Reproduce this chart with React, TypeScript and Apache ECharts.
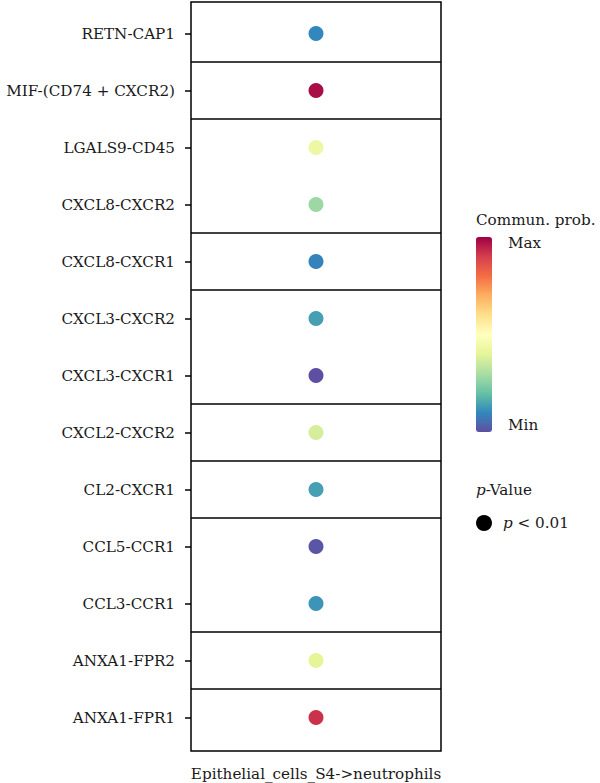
import React, { useEffect, useRef } from "react";
import * as echarts from "echarts";

// Ligand–receptor pairs, top to bottom
const pairs = [
  "RETN-CAP1",
  "MIF-(CD74 + CXCR2)",
  "LGALS9-CD45",
  "CXCL8-CXCR2",
  "CXCL8-CXCR1",
  "CXCL3-CXCR2",
  "CXCL3-CXCR1",
  "CXCL2-CXCR2",
  "CL2-CXCR1",
  "CCL5-CCR1",
  "CCL3-CCR1",
  "ANXA1-FPR2",
  "ANXA1-FPR1",
];

// Sender -> receiver column
const sourceTarget = ["Epithelial_cells_S4->neutrophils"];

// Relative communication probability (0 = Min, 1 = Max)
const commProb = [0.1, 0.98, 0.43, 0.28, 0.09, 0.14, 0.0, 0.37, 0.14, 0.01, 0.12, 0.4, 0.92];

// Pathway group boundaries (separators placed after these row indices)
const groupBreaksAfter = [0, 1, 3, 4, 6, 7, 8, 10, 11];

// Spectral palette, Min -> Max
const spectral = [
  "#5e4fa2", "#3288bd", "#66c2a5", "#abdda4", "#e6f598", "#ffffbf",
  "#fee08b", "#fdae61", "#f46d43", "#d53e4f", "#9e0142",
];

const FONT = "DejaVu Serif";
const TXT = "#1a1a1a";
const FS = 15.2;

export default function App() {
  const ref = useRef<HTMLDivElement>(null);

  useEffect(() => {
    if (!ref.current) return;
    const chart = echarts.init(ref.current, null, { renderer: "svg" });

    const points = commProb.map((v, i) => [sourceTarget[0], pairs[i], v]);

    chart.setOption({
      animation: false,
      backgroundColor: "#ffffff",
      textStyle: { fontFamily: FONT },
      grid: [
        // outer frame
        {
          left: 191, top: 2, width: 250, height: 749,
          show: true, borderColor: "#000", borderWidth: 1.5,
          backgroundColor: "transparent",
        },
        // inner plotting band
        { left: 191, top: 5, width: 250, height: 741 },
      ],
      xAxis: [
        {
          gridIndex: 0,
          type: "category",
          data: sourceTarget,
          axisLine: { show: false },
          axisTick: { show: false },
          axisLabel: { fontFamily: FONT, fontSize: FS, color: TXT, margin: 15 },
        },
        {
          gridIndex: 1,
          type: "category",
          data: sourceTarget,
          show: false,
        },
      ],
      yAxis: [
        { gridIndex: 0, type: "value", show: false },
        {
          gridIndex: 1,
          type: "category",
          data: pairs,
          inverse: true,
          axisLine: { show: false },
          axisTick: { show: true, alignWithLabel: true, length: 6, lineStyle: { color: "#000", width: 1.5 } },
          axisLabel: { fontFamily: FONT, fontSize: FS, color: TXT, margin: 16 },
          splitLine: { show: false },
        },
        {
          gridIndex: 1,
          type: "value",
          min: -0.5,
          max: 12.5,
          inverse: true,
          show: false,
          splitLine: { show: false },
        },
      ],
      visualMap: {
        type: "continuous",
        min: 0,
        max: 1,
        dimension: 2,
        seriesIndex: 0,
        calculable: false,
        text: null,
        padding: 0,
        left: 476,
        top: 237,
        itemWidth: 16,
        itemHeight: 195,
        inRange: { color: spectral, opacity: 1 },
      },
      legend: {
        data: ["p < 0.01"],
        left: 476,
        top: 515,
        padding: 0,
        icon: "circle",
        itemWidth: 16,
        itemHeight: 16,
        itemGap: 8,
        selectedMode: false,
        itemStyle: { color: "#000", opacity: 1 },
        formatter: () => "{i|p} < 0.01",
        textStyle: {
          fontFamily: FONT,
          fontSize: FS,
          color: TXT,
          padding: [0, 0, 0, 6],
          rich: {
            i: { fontFamily: FONT, fontSize: FS, fontStyle: "italic", color: TXT },
          },
        },
      },
      series: [
        {
          name: "p < 0.01",
          type: "scatter",
          xAxisIndex: 1,
          yAxisIndex: 1,
          symbolSize: 15,
          data: points,
          itemStyle: { color: "#000", opacity: 1 },
        },
        {
          // pathway group separators
          type: "scatter",
          xAxisIndex: 1,
          yAxisIndex: 2,
          data: [],
          silent: true,
          markLine: {
            silent: true,
            symbol: "none",
            label: { show: false },
            lineStyle: { color: "#000", width: 1.5, type: "solid" },
            data: groupBreaksAfter.map((i) => ({ yAxis: i + 0.5 })),
          },
        },
      ],
      graphic: [
        {
          type: "text",
          left: 476,
          top: 212,
          style: { text: "Commun. prob.", fontFamily: FONT, fontSize: FS, fill: TXT },
        },
        {
          type: "text",
          left: 508,
          top: 235,
          style: { text: "Max", fontFamily: FONT, fontSize: FS, fill: TXT },
        },
        {
          type: "text",
          left: 508,
          top: 417,
          style: { text: "Min", fontFamily: FONT, fontSize: FS, fill: TXT },
        },
        {
          type: "text",
          left: 476,
          top: 482,
          style: {
            text: "{i|p}-Value",
            fontFamily: FONT,
            fontSize: FS,
            fill: TXT,
            rich: { i: { fontFamily: FONT, fontSize: FS, fontStyle: "italic", fill: TXT } },
          },
        },
      ],
    });

    return () => chart.dispose();
  }, []);

  return (
    <div
      ref={ref}
      style={{ position: "absolute", left: 0, top: 0, width: 600, height: 783 }}
    />
  );
}
